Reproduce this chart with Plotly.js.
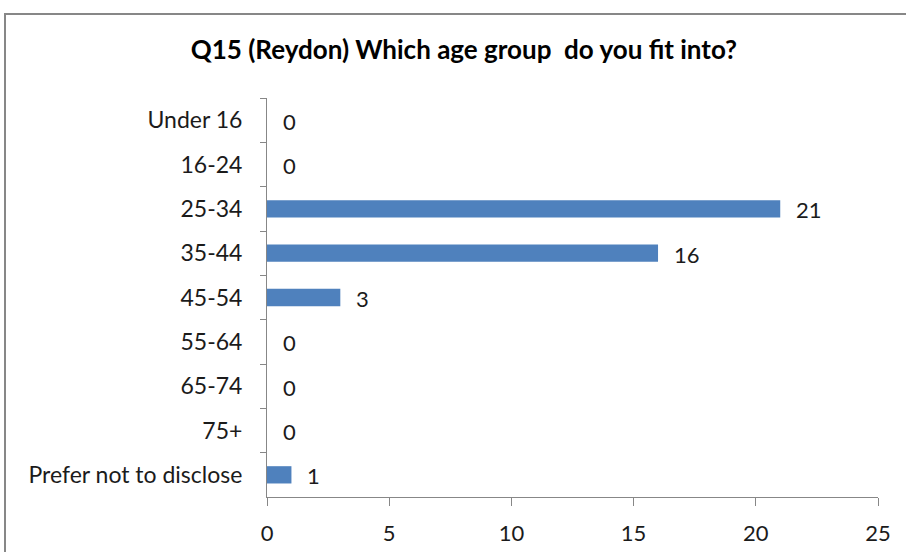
<!DOCTYPE html>
<html>
<head>
<meta charset="utf-8">
<script src="https://cdn.plot.ly/plotly-3.0.1.min.js"></script>
<style>
  html, body { margin: 0; padding: 0; background: #fff; overflow: hidden; }
  #frame { position: absolute; left: 4px; top: 13px; width: 1000px; height: 1000px; border: 2px solid #878787; box-sizing: border-box; pointer-events: none; }
  #chart { position: absolute; left: 0; top: 0; width: 906px; height: 552px; }
</style>
</head>
<body>
<div id="chart"></div>
<div id="frame"></div>
<script>
const categories = ["Under 16", "16-24", "25-34", "35-44", "45-54", "55-64", "65-74", "75+", "Prefer not to disclose"];
const counts = [0, 0, 21, 16, 3, 0, 0, 0, 1];
const xTicks = [0, 5, 10, 15, 20, 25];
const titleText = "Q15 (Reydon) Which age group&nbsp; do you fit into?";

const fontFamily = "Lato, 'Open Sans', 'Liberation Sans', sans-serif";
const textColor = "#1b1b1b";

const trace = {
  type: "bar",
  orientation: "h",
  x: counts,
  y: categories,
  marker: { color: "#4F81BD", line: { width: 0 } },
  hoverinfo: "none"
};

const annotations = counts.map((v, i) => ({
  x: v, y: categories[i], xref: "x", yref: "y",
  text: String(v), showarrow: false, xanchor: "left", yanchor: "middle",
  xshift: 14, yshift: -1,
  font: { family: fontFamily, size: 22, color: textColor }
}));

const layout = {
  width: 906, height: 552,
  margin: { l: 267, r: 28, t: 98, b: 55 },
  paper_bgcolor: "rgba(0,0,0,0)",
  plot_bgcolor: "rgba(0,0,0,0)",
  showlegend: false,
  bargap: 0.61,
  title: {
    text: "<b>" + titleText + "</b>",
    x: 0.512, xanchor: "center", xref: "container",
    y: 0.909, yanchor: "middle", yref: "container",
    font: { family: fontFamily, size: 26, color: "#000" }
  },
  xaxis: {
    range: [0, 25], tickvals: xTicks, ticktext: xTicks.map(String),
    showgrid: false, zeroline: false,
    showline: true, linecolor: "#878787", linewidth: 1,
    ticks: "outside", ticklen: 8, tickcolor: "#878787", tickwidth: 1,
    ticklabelstandoff: 9,
    tickfont: { family: fontFamily, size: 22, color: textColor },
    fixedrange: true
  },
  yaxis: {
    type: "category",
    categoryorder: "array", categoryarray: categories,
    autorange: "reversed",
    showgrid: false, zeroline: false,
    showline: true, linecolor: "#878787", linewidth: 1,
    ticks: "outside", ticklen: 6, tickcolor: "#878787", tickwidth: 1,
    tickson: "boundaries",
    ticklabelstandoff: 19,
    tickfont: { family: fontFamily, size: 23, color: textColor },
    fixedrange: true
  },
  annotations: annotations
};

Plotly.newPlot("chart", [trace], layout, { displayModeBar: false, staticPlot: true });
</script>
</body>
</html>
